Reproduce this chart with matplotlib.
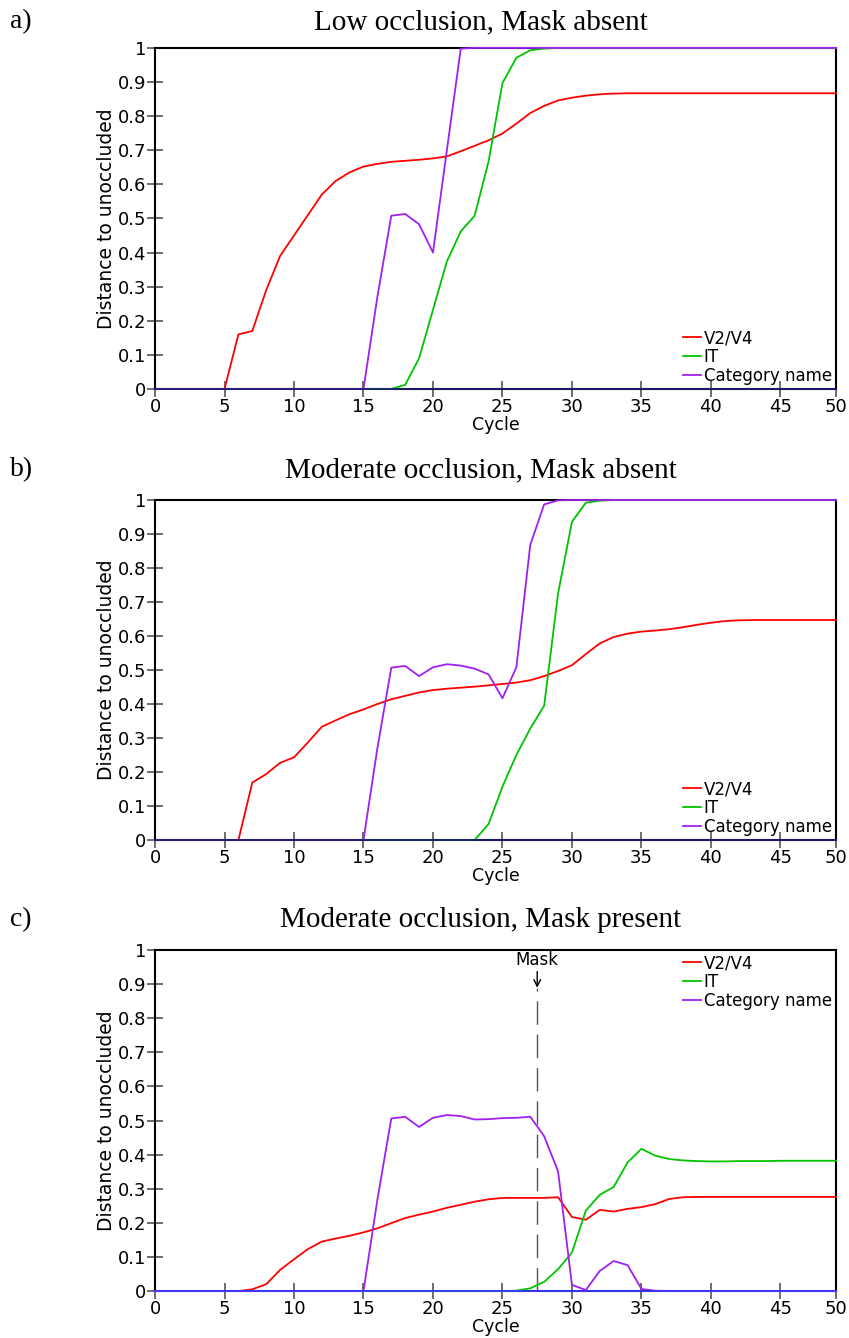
import numpy as np
import matplotlib
matplotlib.use("Agg")
import matplotlib.pyplot as plt

# cycles 0..49, the last tick sits at the axis end and is labelled 50
cycles = np.arange(50)

# a) Low occlusion, Mask absent
a_v2v4 = [0, 0, 0, 0, 0, 0, 0.16, 0.17, 0.29, 0.39, 0.45, 0.51, 0.57, 0.61, 0.635, 0.652,
          0.66, 0.666, 0.669, 0.672, 0.676, 0.682, 0.697, 0.713, 0.729, 0.749, 0.778, 0.809,
          0.83, 0.846, 0.854, 0.86, 0.864, 0.866, 0.867] + [0.867] * 15
a_it = [0] * 17 + [0.0, 0.012, 0.09, 0.232, 0.374, 0.462, 0.508, 0.667, 0.897, 0.971, 0.993,
                   0.998] + [1.0] * 21
a_cat = [0] * 16 + [0.27, 0.508, 0.513, 0.483, 0.40, 0.70, 0.998] + [1.0] * 27

# b) Moderate occlusion, Mask absent
b_v2v4 = [0, 0, 0, 0, 0, 0, 0, 0.169, 0.194, 0.227, 0.243, 0.287, 0.333, 0.352, 0.37, 0.384,
          0.40, 0.414, 0.424, 0.434, 0.441, 0.445, 0.448, 0.451, 0.455, 0.459, 0.463, 0.47,
          0.482, 0.497, 0.514, 0.547, 0.578, 0.597, 0.607, 0.613, 0.616, 0.62, 0.626, 0.633,
          0.639, 0.644, 0.646] + [0.647] * 7
b_it = [0] * 24 + [0.047, 0.157, 0.25, 0.328, 0.395, 0.725, 0.936, 0.992, 0.998] + [1.0] * 17
b_cat = [0] * 16 + [0.27, 0.507, 0.512, 0.482, 0.508, 0.517, 0.513, 0.504, 0.487, 0.417,
                    0.508, 0.868, 0.987, 0.999] + [1.0] * 20

# c) Moderate occlusion, Mask present
c_v2v4 = [0, 0, 0, 0, 0, 0, 0, 0.005, 0.02, 0.062, 0.093, 0.123, 0.145, 0.154, 0.162, 0.172,
          0.184, 0.199, 0.214, 0.224, 0.233, 0.244, 0.253, 0.262, 0.269, 0.273, 0.273, 0.273,
          0.273, 0.275, 0.217, 0.209, 0.238, 0.233, 0.241, 0.246, 0.255, 0.27, 0.275] + [0.276] * 11
c_it = [0] * 26 + [0.001, 0.008, 0.027, 0.064, 0.113, 0.236, 0.282, 0.305, 0.377, 0.417, 0.397,
                   0.387, 0.383, 0.381, 0.380, 0.380, 0.381, 0.381, 0.381, 0.382, 0.382, 0.382,
                   0.382, 0.382]
c_cat = [0] * 16 + [0.268, 0.506, 0.511, 0.481, 0.508, 0.516, 0.513, 0.503, 0.504, 0.507,
                    0.508, 0.511, 0.454, 0.351, 0.018, 0.003, 0.059, 0.088, 0.076, 0.006,
                    0.001] + [0] * 13
other = [0] * 50  # unlabelled series sitting on zero

mask_cycle = 27.5
mask_top = 0.889

titles = ["Low occlusion, Mask absent", "Moderate occlusion, Mask absent",
          "Moderate occlusion, Mask present"]
panel_tags = ["a)", "b)", "c)"]
series_names = ["V2/V4", "IT", "Category name"]
colors = ["#ff0000", "#00c400", "#a020f0"]

xticks = [0, 5, 10, 15, 20, 25, 30, 35, 40, 45, 49]
xticklabels = ["0", "5", "10", "15", "20", "25", "30", "35", "40", "45", "50"]
yticks = np.arange(0, 11) / 10
yticklabels = ["0"] + ["%.1f" % v for v in yticks[1:-1]] + ["1"]

data = [(a_v2v4, a_it, a_cat), (b_v2v4, b_it, b_cat), (c_v2v4, c_it, c_cat)]

fig = plt.figure(figsize=(8.49, 13.38), dpi=100)
plt.rcParams['font.family'] = 'DejaVu Sans'

# axes boxes in figure fractions (left, bottom, width, height)
boxes = [(0.1826, 0.7093, 0.8021, 0.2549),
         (0.1826, 0.3722, 0.8021, 0.2541),
         (0.1826, 0.0351, 0.8021, 0.2549)]
title_y = [0.9835, 0.6487, 0.3124]

for i, (box, series) in enumerate(zip(boxes, data)):
    ax = fig.add_axes(box)
    base_col = "#3a3aff" if i == 2 else "#1c1c70"
    ax.plot(cycles, other, color=base_col, lw=1.3, zorder=3.5, clip_on=False)
    for vals, name, col in zip(series, series_names, colors):
        ax.plot(cycles, vals, color=col, lw=1.3, label=name, zorder=3, clip_on=False)

    ax.set_xlim(0, 49)
    ax.set_ylim(0, 1)
    ax.set_xticks(xticks)
    ax.set_xticklabels(xticklabels)
    ax.set_yticks(yticks)
    ax.set_yticklabels(yticklabels)
    ax.tick_params(direction="inout", length=11, width=1.2, color="#555555",
                   labelsize=13, pad=1)
    for sp in ax.spines.values():
        sp.set_linewidth(1.5)
    ax.set_xlabel("Cycle", fontsize=12.5, labelpad=0)
    ax.set_ylabel("Distance to unoccluded", fontsize=13.5, labelpad=1)

    if i == 2:
        ax.vlines(mask_cycle, 0, mask_top, colors="#555555", lw=1.0,
                  linestyles=(0, (17, 7)), zorder=2)
        ax.annotate("Mask", xy=(mask_cycle, mask_top), xytext=(mask_cycle, 0.945),
                    ha="center", va="bottom", fontsize=12,
                    arrowprops=dict(arrowstyle="->", color="black", lw=1.0,
                                    shrinkA=0, shrinkB=0))
        leg = ax.legend(loc="upper right", frameon=False, fontsize=12,
                        handlelength=1.1, handletextpad=0.15, labelspacing=0.05,
                        borderaxespad=0.15, borderpad=0.1)
    else:
        leg = ax.legend(loc="lower right", frameon=False, fontsize=12,
                        handlelength=1.1, handletextpad=0.15, labelspacing=0.05,
                        borderaxespad=0.15, borderpad=0.1)

    fig.text(0.566, title_y[i], titles[i], ha="center", va="center",
             fontsize=21, family="Liberation Serif")
    fig.text(0.012, title_y[i], panel_tags[i], ha="left", va="center",
             fontsize=20, family="Liberation Serif")

fig.savefig("out.png", dpi=100)
